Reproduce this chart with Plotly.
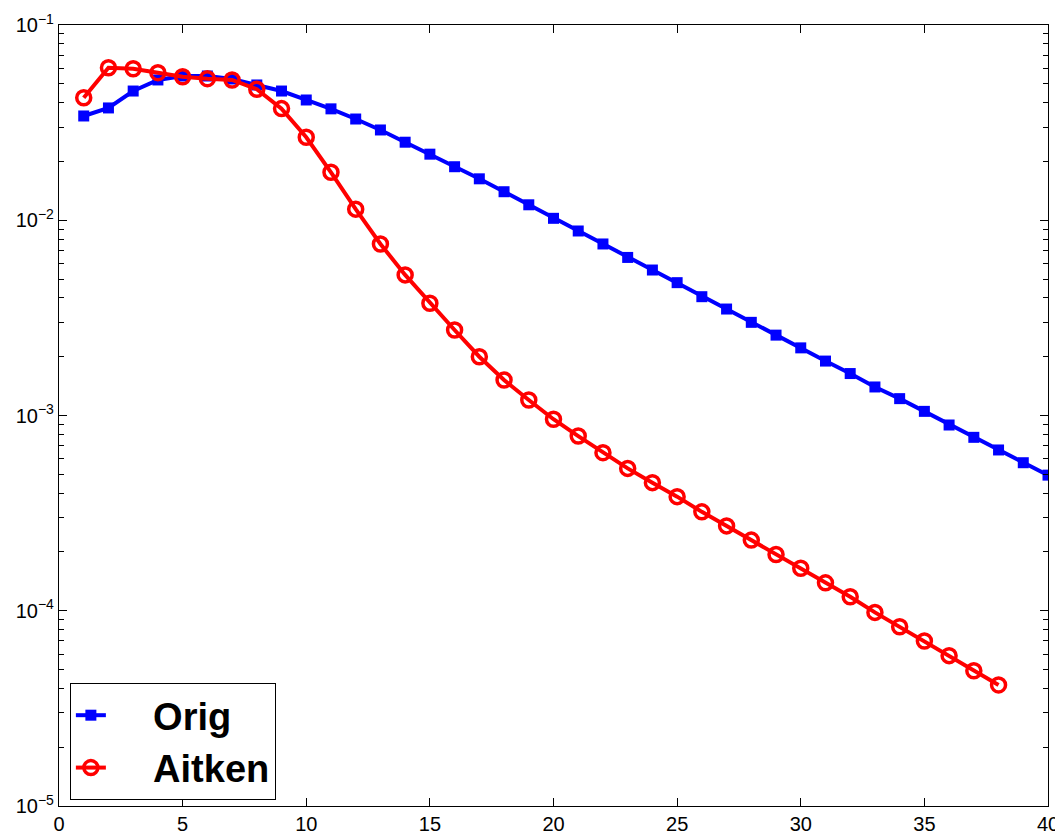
import plotly.graph_objects as go

iterations_orig = list(range(1, 41))
orig = [0.0342, 0.0376, 0.0459, 0.0523, 0.0548, 0.0548, 0.0529, 0.0493, 0.0459, 0.0413,
        0.0372, 0.0330, 0.0290, 0.0251, 0.0218, 0.0188, 0.0163, 0.0140, 0.0120, 0.01023,
        0.00881, 0.00756, 0.00645, 0.00556, 0.00479, 0.00406, 0.00351, 0.00300, 0.00258, 0.00222,
        0.00190, 0.00164, 0.00140, 0.00122, 0.00105, 0.000894, 0.000773, 0.000666, 0.000573, 0.000495]

iterations_aitken = list(range(1, 39))
aitken = [0.0424, 0.0604, 0.0597, 0.0570, 0.0543, 0.0531, 0.0523, 0.0469, 0.0373, 0.0266,
          0.0176, 0.0114, 0.00756, 0.00525, 0.00376, 0.00274, 0.00200, 0.00152, 0.00120, 0.000957,
          0.000785, 0.000645, 0.000536, 0.000453, 0.000384, 0.000321, 0.000272, 0.000230, 0.000194, 0.000165,
          0.000139, 0.000118, 0.0000981, 0.0000828, 0.0000700, 0.0000589, 0.0000493, 0.0000417]

series_names = ["Orig", "Aitken"]

x_ticks = [0, 5, 10, 15, 20, 25, 30, 35, 40]
y_ticks = [1e-5, 1e-4, 1e-3, 1e-2, 1e-1]
y_tick_text = ["10<sup>\u22125</sup>", "10<sup>\u22124</sup>", "10<sup>\u22123</sup>",
               "10<sup>\u22122</sup>", "10<sup>\u22121</sup>"]
y_minor = [m * 10 ** e for e in range(-5, -1) for m in range(2, 10)]

pad = "\u00a0\u00a0\u00a0\u00a0"

fig = go.Figure()
fig.add_trace(go.Scatter(
    x=iterations_orig, y=orig, name=pad + series_names[0], mode="lines+markers",
    line=dict(color="#0000ff", width=4),
    marker=dict(symbol="square", size=11, color="#0000ff"),
))
fig.add_trace(go.Scatter(
    x=iterations_aitken, y=aitken, name=pad + series_names[1], mode="lines+markers",
    line=dict(color="#ff0000", width=4),
    marker=dict(symbol="circle-open", size=14, color="#ff0000", line=dict(width=3.5, color="#ff0000")),
))

tick_font = dict(family="Liberation Sans, Arial, sans-serif", size=20, color="black")

# page body has an 8px default margin, so the figure is 8px smaller
fig.update_layout(
    width=1055, height=829,
    margin=dict(l=51, r=15, t=17, b=31),
    paper_bgcolor="white", plot_bgcolor="white",
    font=dict(family="Liberation Sans, Arial, sans-serif", size=20, color="black"),
    showlegend=True,
    legend=dict(
        x=0.011, y=0.0077, xanchor="left", yanchor="bottom",
        bgcolor="white", bordercolor="black", borderwidth=1,
        font=dict(family="Liberation Sans, Arial, sans-serif", size=38, color="black", weight="bold"),
        tracegroupgap=0,
    ),
)
fig.update_xaxes(
    range=[0, 40], tickmode="array", tickvals=x_ticks, tickfont=tick_font, automargin=False,
    showline=True, linecolor="black", linewidth=1.2, mirror="ticks",
    ticks="inside", ticklen=8, tickcolor="black", tickwidth=1,
    showgrid=False, zeroline=False,
)
fig.update_yaxes(
    type="log", range=[-5, -1], tickmode="array", tickvals=y_ticks, ticktext=y_tick_text,
    tickfont=tick_font, automargin=False,
    showline=True, linecolor="black", linewidth=1.2, mirror="ticks",
    ticks="inside", ticklen=8, tickcolor="black", tickwidth=1,
    showgrid=False, zeroline=False,
    minor=dict(tickmode="array", tickvals=y_minor, ticks="inside", ticklen=5,
               tickcolor="black", tickwidth=1, showgrid=False),
)

fig.write_html("out.html")
